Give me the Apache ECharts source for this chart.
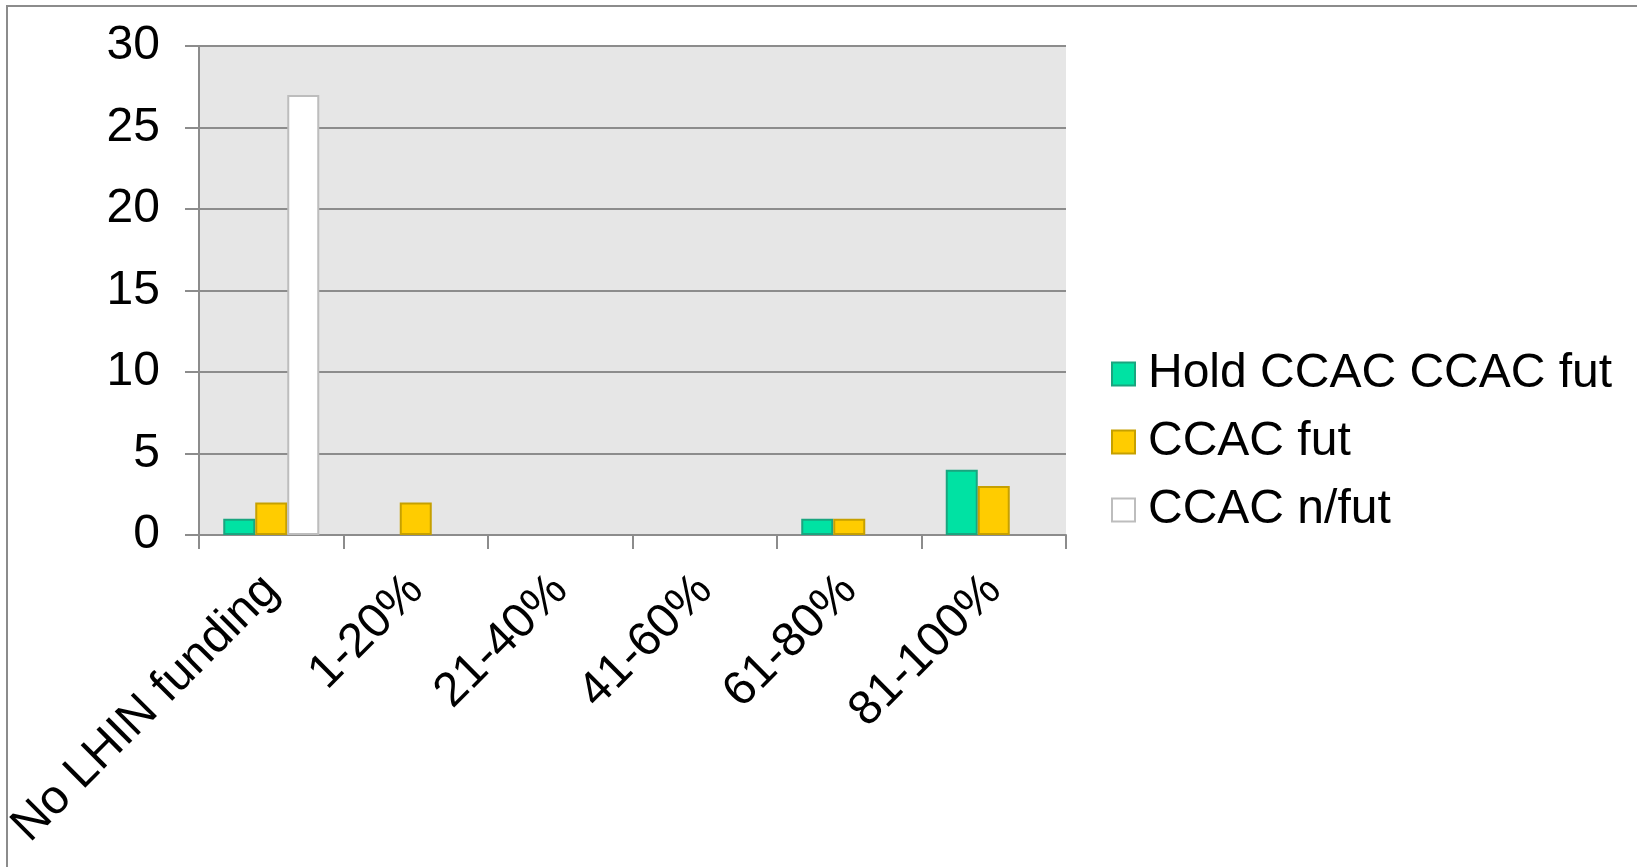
<!DOCTYPE html>
<html>
<head>
<meta charset="utf-8">
<script src="https://cdn.jsdelivr.net/npm/echarts@6/dist/echarts.min.js"></script>
<style>
html,body{margin:0;padding:0;background:#fff;}
#chart{width:1637px;height:867px;}
</style>
</head>
<body>
<div id="chart"></div>
<script>
const categories = ['No LHIN funding', '1-20%', '21-40%', '41-60%', '61-80%', '81-100%'];
const seriesNames = ['Hold CCAC CCAC fut', 'CCAC fut', 'CCAC n/fut'];
const holdValues = [1, 0, 0, 0, 1, 4];
const futValues = [2, 2, 0, 0, 1, 3];
const nfutValues = [27, 0, 0, 0, 0, 0];
const yTicks = [0, 5, 10, 15, 20, 25, 30];

const FONT = '"Liberation Sans", Arial, sans-serif';
const fills = ['#00E2A3', '#FFCC00', '#FFFFFF'];
const borders = ['#19A57F', '#C6A000', '#BDBDBD'];
const allValues = [holdValues, futValues, nfutValues];

const chart = echarts.init(document.getElementById('chart'), null, {renderer: 'canvas'});
chart.setOption({
  animation: false,
  backgroundColor: '#ffffff',
  graphic: [{
    type: 'rect',
    shape: {x: 7, y: 6, width: 1700, height: 1000},
    style: {fill: 'none', stroke: '#8c8c8c', lineWidth: 2},
    silent: true,
    z: 0
  }],
  grid: {
    left: 199, top: 46, right: 571, bottom: 332,
    show: true, backgroundColor: '#E6E6E6', borderWidth: 0
  },
  legend: {
    orient: 'vertical',
    left: 1106,
    top: 345,
    itemWidth: 23,
    itemHeight: 23,
    itemGap: 20,
    icon: 'rect',
    textStyle: {fontFamily: FONT, fontSize: 48, color: '#000', lineHeight: 48, padding: [0, 0, 0, 8]},
    data: seriesNames
  },
  xAxis: {
    type: 'category',
    data: categories,
    axisLine: {show: true, lineStyle: {color: '#8c8c8c', width: 2}},
    axisTick: {show: true, length: 14, alignWithLabel: false, lineStyle: {color: '#8c8c8c', width: 2}},
    axisLabel: {rotate: 45, margin: 48, fontFamily: FONT, fontSize: 48, color: '#000', interval: 0}
  },
  yAxis: {
    type: 'value',
    min: yTicks[0],
    max: yTicks[yTicks.length - 1],
    interval: yTicks[1] - yTicks[0],
    axisLine: {show: true, lineStyle: {color: '#8c8c8c', width: 2}},
    axisTick: {show: true, length: 14, lineStyle: {color: '#8c8c8c', width: 2}},
    axisLabel: {margin: 39, fontFamily: FONT, fontSize: 48, color: '#000'},
    splitLine: {show: true, lineStyle: {color: '#8c8c8c', width: 2}}
  },
  series: seriesNames.map((name, i) => ({
    name: name,
    type: 'bar',
    barWidth: 32,
    barGap: '0%',
    data: allValues[i].map(v => v === 0 ? null : v),
    itemStyle: {color: fills[i], borderColor: borders[i], borderWidth: 2},
    z: 3
  }))
});
</script>
</body>
</html>
